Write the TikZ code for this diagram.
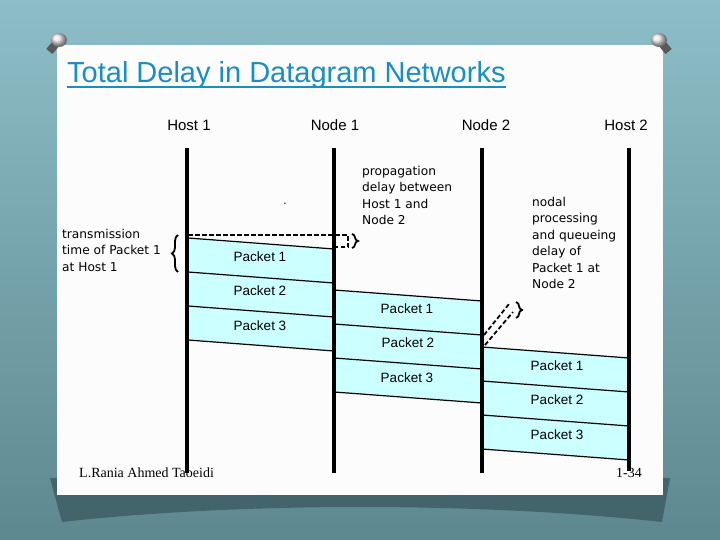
\documentclass[tikz,border=0pt]{standalone}
\usepackage{fontspec}
\setmainfont{Liberation Sans}
\newfontfamily\notefont{DejaVu Sans}
\newfontfamily\footfont{Liberation Serif}
\usepackage{tikz}
\usetikzlibrary{positioning,calc,decorations.pathreplacing}

\definecolor{slidebg}{RGB}{141,190,199}
\definecolor{slidebgdark}{RGB}{94,136,143}
\definecolor{shadowcol}{RGB}{66,100,106}
\definecolor{titleblue}{RGB}{24,142,194}
\definecolor{pktfill}{RGB}{204,255,255}

\tikzset{
  lifeline/.style={line width=4pt},
  pktline/.style={line width=1.2pt},
  pktlabel/.style={font=\fontsize{13.5}{16}\selectfont},
  hdr/.style={font=\fontsize{15}{18}\selectfont},
  note/.style={font=\notefont\fontsize{12.2}{16.5}\selectfont,align=left,anchor=north west,inner sep=0pt},
  gap/.style={line width=1.8pt,dash pattern=on 4.5pt off 2.5pt},
  curly/.style={decorate,decoration={brace,amplitude=6pt},line width=1.8pt},
}

\begin{document}
\begin{tikzpicture}[x=1pt,y=-1pt]
% Slide background
\shade[top color=slidebg,bottom color=slidebgdark] (0,0) rectangle (720,540);
\useasboundingbox (0,0) rectangle (720,540);
\fill[shadowcol] (50,478) -- (670,478) -- (662,522) .. controls (480,502) and (240,502) .. (62,522) -- cycle;
\fill[white!98!gray] (57,45) rectangle (663,495);

% Pins
\fill[gray!70!black,rotate around={-40:(59,40)}] (55,40) rectangle (63,55);
\shade[ball color=white!80!gray] (59,40) ellipse (8 and 7);
\fill[gray!70!black,rotate around={40:(659,40)}] (655,40) rectangle (663,55);
\shade[ball color=white!80!gray] (659,40) ellipse (8 and 7);

% Title
\node[anchor=base west,inner sep=0pt,text=titleblue,font=\fontsize{29}{34}\selectfont] (title) at (67,83) {Total Delay in Datagram Networks};
\draw[titleblue,line width=1.8pt] ($(title.base west)+(0,4)$) -- ($(title.base east)+(0,4)$);

% Column heads
\node[hdr] (host1) at (189,125) {Host 1};
\node[hdr] (node1) at (335,125) {Node 1};
\node[hdr] (node2) at (486,125) {Node 2};
\node[hdr] (host2) at (626,125) {Host 2};

\coordinate (h1top) at (187,148);
\coordinate (h1bot) at (187,473);
\coordinate (n1top) at (334,148);
\coordinate (n1bot) at (334,473);
\coordinate (n2top) at (482,148);
\coordinate (n2bot) at (482,473);
\coordinate (h2top) at (629,148);
\coordinate (h2bot) at (629,471);

% Packets Host 1 -> Node 1
\fill[pktfill] (188,238) -- (334,249) -- (334,351) -- (188,340) -- cycle;
\draw[pktline] (188,238) -- (334,249);
\draw[pktline] (188,272) -- (334,283);
\draw[pktline] (188,306) -- (334,317);
\draw[pktline] (188,340) -- (334,351);
\node[pktlabel] (pkt1a) at (260,257) {Packet 1};
\node[pktlabel] (pkt2a) at (260,291) {Packet 2};
\node[pktlabel] (pkt3a) at (260,326) {Packet 3};

% Packets Node 1 -> Node 2
\fill[pktfill] (334,290) -- (482,301) -- (482,403) -- (334,392) -- cycle;
\draw[pktline] (334,290) -- (482,301);
\draw[pktline] (334,324) -- (482,335);
\draw[pktline] (334,358) -- (482,369);
\draw[pktline] (334,392) -- (482,403);
\node[pktlabel] (pkt1b) at (407,309) {Packet 1};
\node[pktlabel] (pkt2b) at (408,343) {Packet 2};
\node[pktlabel] (pkt3b) at (407,378) {Packet 3};

% Packets Node 2 -> Host 2
\fill[pktfill] (482,347) -- (629,358) -- (629,460) -- (482,449) -- cycle;
\draw[pktline] (482,347) -- (629,358);
\draw[pktline] (482,381) -- (629,392);
\draw[pktline] (482,415) -- (629,426);
\draw[pktline] (482,449) -- (629,460);
\node[pktlabel] (pkt1c) at (557,366) {Packet 1};
\node[pktlabel] (pkt2c) at (557,400) {Packet 2};
\node[pktlabel] (pkt3c) at (557,435) {Packet 3};

% Time lines
\draw[lifeline] (h1top) -- (h1bot);
\draw[lifeline] (n1top) -- (n1bot);
\draw[lifeline] (n2top) -- (n2bot);
\draw[lifeline] (h2top) -- (h2bot);

% Delay marks
\draw[gap] (188,235) -- (348,235) -- (348,247) -- (336,247);
\draw[curly] (352,234) -- (352,248);
\draw[gap] (484,335) -- (509,304);
\draw[gap] (485,345) -- (513,312);
\draw[curly] (516,302) -- (516,318);
\draw[curly,decoration={amplitude=6pt}] (178,272) -- (178,235);

% Notes
\node[note] (txnote) at (62,229) {transmission\\time of Packet 1\\at Host 1};
\node[note] (propnote) at (362,166) {propagation\\delay between\\Host 1 and\\Node 2};
\node[note] (procnote) at (532,197) {nodal\\processing\\and queueing\\delay of\\Packet 1 at\\Node 2};
\node[inner sep=0pt,font=\fontsize{12}{12}\selectfont] (dot) at (285,204) {.};

% Footer
\node[anchor=base west,inner sep=0pt,font=\footfont\fontsize{14}{16}\selectfont] (author) at (79,477) {L.Rania Ahmed Taoeidi};
\node[anchor=base west,inner sep=0pt,font=\footfont\fontsize{14}{16}\selectfont] (slideno) at (616,477) {1-34};
\end{tikzpicture}
\end{document}
